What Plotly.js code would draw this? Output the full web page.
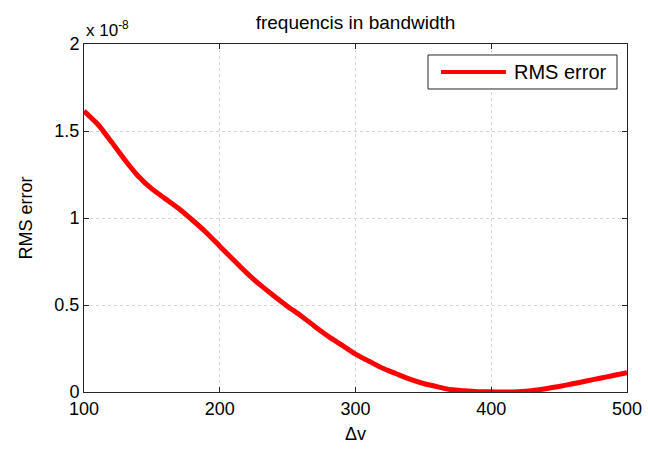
<!DOCTYPE html>
<html>
<head>
<meta charset="utf-8">
<script src="https://cdn.plot.ly/plotly-3.0.1.min.js"></script>
<style>html,body{margin:0;padding:0;background:#fff;}#chart{width:648px;height:449px;}</style>
</head>
<body>
<div id="chart"></div>
<script>
// Δv values
const deltaV = [100,110,120,130,140,150,160,170,180,190,200,210,220,230,240,250,260,270,280,290,300,
                310,320,330,340,350,360,370,380,390,400,410,420,430,440,450,460,470,480,490,500];
// RMS error in units of 1e-8
const rmsError = [1.615,1.54,1.44,1.335,1.24,1.167,1.11,1.053,0.987,0.917,0.838,0.76,0.683,0.614,0.552,0.492,0.437,0.377,0.32,0.269,0.218,
                  0.177,0.136,0.105,0.074,0.049,0.031,0.014,0.007,0.002,0.001,0.0,0.002,0.008,0.019,0.032,0.047,0.063,0.079,0.095,0.111];
const yTickVals = [0,0.5,1,1.5,2];
const yTickText = ["0","0.5","1","1.5","2"];
const xTickVals = [100,200,300,400,500];
const seriesName = "RMS error";

const FONT = "Liberation Sans, Arial, Helvetica, sans-serif";
const INK = "#262626";

const trace = {
  x: deltaV, y: rmsError, type: "scatter", mode: "lines", name: seriesName,
  line: {color: "#ff0000", width: 5, shape: "spline", smoothing: 0.6},
  showlegend: false, hoverinfo: "skip"
};

const axisCommon = {
  showline: true, linecolor: INK, linewidth: 1, mirror: "ticks",
  ticks: "inside", ticklen: 5, tickcolor: INK, tickwidth: 1,
  showgrid: true, gridcolor: "#d4d4d4", gridwidth: 1, griddash: "dot",
  zeroline: false, tickfont: {family: FONT, size: 18, color: "#000"}
};

const layout = {
  width: 648, height: 449,
  margin: {l: 84, r: 21, t: 44, b: 57},
  paper_bgcolor: "#fff", plot_bgcolor: "#fff",
  font: {family: FONT, color: "#000"},
  title: {text: "frequencis in bandwidth", font: {family: FONT, size: 19, color: "#000"},
          x: 0.5, xref: "paper", xanchor: "center", y: 0.951, yanchor: "middle"},
  xaxis: Object.assign({}, axisCommon, {
    range: [100, 500], tickvals: xTickVals, ticktext: xTickVals.map(String),
    title: {text: "Δv", font: {family: FONT, size: 18, color: "#000"}, standoff: 9}
  }),
  yaxis: Object.assign({}, axisCommon, {
    range: [0, 2], tickvals: yTickVals, ticktext: yTickText,
    title: {text: "RMS error", font: {family: FONT, size: 18, color: "#000"}, standoff: 17}
  }),
  shapes: [
    {type: "rect", xref: "paper", yref: "paper", x0: 0.6335, x1: 0.9816, y0: 0.8707, y1: 0.9684,
     line: {color: INK, width: 1}, fillcolor: "#fff", layer: "above"},
    {type: "line", xref: "paper", yref: "paper", x0: 0.6575, x1: 0.7772, y0: 0.9195, y1: 0.9195,
     line: {color: "#ff0000", width: 4}, layer: "above"}
  ],
  annotations: [
    {text: seriesName, xref: "paper", yref: "paper", x: 0.789, y: 0.9195, xanchor: "left", yanchor: "middle",
     showarrow: false, font: {family: FONT, size: 20, color: "#000"}},
    {text: "x 10<sup>-8</sup>", xref: "paper", yref: "paper", x: 0, y: 1, xanchor: "left", yanchor: "bottom",
     yshift: 2, showarrow: false, font: {family: FONT, size: 17, color: "#000"}}
  ]
};

Plotly.newPlot("chart", [trace], layout, {displayModeBar: false, staticPlot: true});
</script>
</body>
</html>
